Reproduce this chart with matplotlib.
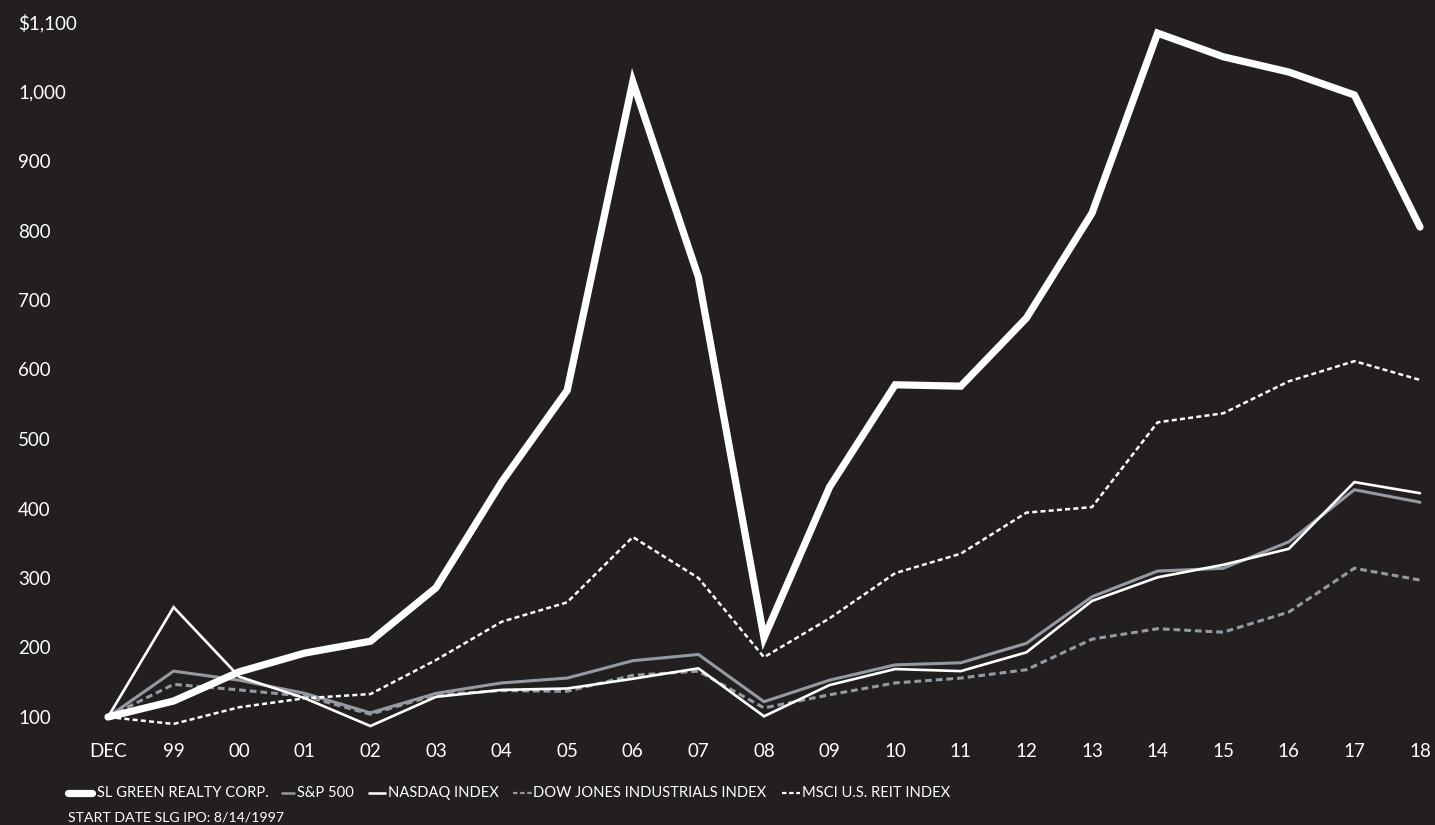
import matplotlib
matplotlib.use("Agg")
import matplotlib.pyplot as plt
from matplotlib.lines import Line2D

plt.rcParams['font.family'] = ['Lato', 'DejaVu Sans']

categories = ['DEC', '99', '00', '01', '02', '03', '04', '05', '06', '07', '08',
              '09', '10', '11', '12', '13', '14', '15', '16', '17', '18']
slg = [100, 123, 165, 192, 209, 286, 438, 570, 1014, 733, 214, 431, 578, 576,
       674, 825, 1084, 1050, 1028, 995, 805]
sp500 = [100, 166, 153, 134, 106, 134, 149, 156, 181, 190, 122, 153, 175, 178,
         206, 273, 310, 314, 352, 427, 409]
nasdaq = [100, 258, 158, 127, 87, 129, 139, 141, 155, 170, 101, 146, 169, 166,
          193, 267, 301, 319, 342, 438, 422]
dowjones = [100, 147, 139, 130, 104, 132, 138, 137, 160, 166, 113, 132, 149, 156,
            168, 212, 227, 222, 251, 314, 297]
msci = [100, 90, 114, 127, 133, 182, 237, 265, 359, 300, 186, 242, 307, 335,
        394, 402, 524, 537, 583, 612, 585]
ytick_values = [100, 200, 300, 400, 500, 600, 700, 800, 900, 1000, 1100]
ytick_labels = ['100', '200', '300', '400', '500', '600', '700', '800', '900',
                '1,000', '$1,100']
legend_labels = ['SL GREEN REALTY CORP.', 'S&P 500', 'NASDAQ INDEX',
                 'DOW JONES INDUSTRIALS INDEX', 'MSCI U.S. REIT INDEX']
footnote = 'START DATE SLG IPO: 8/14/1997'

BG = '#231f20'
GRAY = '#959aa2'
WHITE = '#ffffff'

W, H = 1435, 825
fig = plt.figure(figsize=(W / 100, H / 100), dpi=100, facecolor=BG)
ax = fig.add_axes([108 / W, (H - 717) / H, (1420 - 108) / W, 695 / H])
ax.set_facecolor(BG)
for s in ax.spines.values():
    s.set_visible(False)

x = list(range(len(categories)))
kw = dict(clip_on=False, solid_capstyle='round', solid_joinstyle='miter',
          dash_capstyle='butt')
ax.plot(x, dowjones, color=GRAY, lw=2.2, linestyle=(0, (2.2, 1.3)), **kw)
ax.plot(x, sp500, color=GRAY, lw=2.2, **kw)
ax.plot(x, nasdaq, color=WHITE, lw=1.9, **kw)
ax.plot(x, msci, color=WHITE, lw=1.8, linestyle=(0, (2.0, 1.3)), **kw)
ax.plot(x, slg, color=WHITE, lw=5.2, zorder=5, clip_on=False,
        solid_capstyle='round', solid_joinstyle='miter')

ax.set_xlim(0, len(categories) - 1)
ax.set_ylim(100, 1100)
ax.set_xticks(x)
ax.set_xticklabels(categories)
ax.set_yticks(ytick_values)
ax.set_yticklabels(ytick_labels)
ax.tick_params(axis='x', length=0, pad=19, labelsize=13.5, colors=WHITE)
ax.tick_params(axis='y', length=0, pad=(108 - 18) * 0.72, labelsize=13.5,
               colors=WHITE)
for lab in ax.get_yticklabels():
    lab.set_horizontalalignment('left')

# legend, drawn in figure pixel coordinates
def fy(py):
    return (H - py) / H

leg_y = 793
handles = [
    (68, 92, dict(color=WHITE, lw=5.2, solid_capstyle='round')),
    (281, 295, dict(color=GRAY, lw=1.8, solid_capstyle='butt')),
    (368, 386, dict(color=WHITE, lw=1.8, solid_capstyle='butt')),
    (513, 532, dict(color=GRAY, lw=1.6, linestyle=(0, (2.0, 1.2)))),
    (782, 800, dict(color=WHITE, lw=1.6, linestyle=(0, (2.0, 1.2)))),
]
text_x = [97, 297, 388, 533, 802]
for (x0, x1, st), tx, lab in zip(handles, text_x, legend_labels):
    fig.add_artist(Line2D([x0 / W, x1 / W], [fy(leg_y), fy(leg_y)],
                          transform=fig.transFigure, **st))
    fig.text(tx / W, fy(leg_y), lab, color=WHITE, fontsize=10.6, va='center',
             ha='left')
fig.text(68 / W, fy(817), footnote, color=WHITE, fontsize=10.2, va='center',
         ha='left')

fig.savefig('out.png', dpi=100, facecolor=BG)
